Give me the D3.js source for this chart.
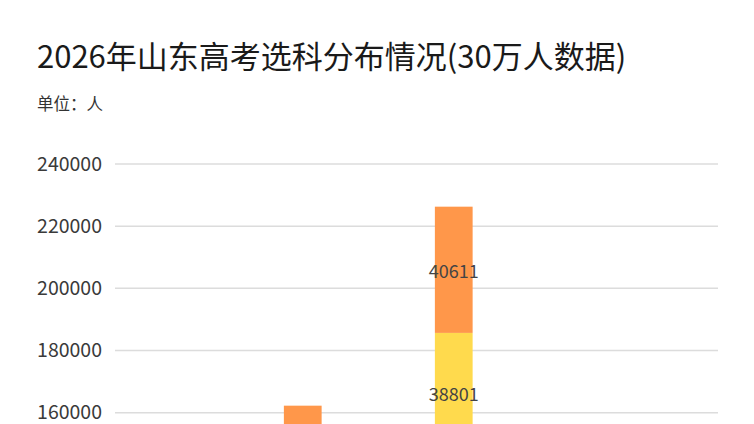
<!DOCTYPE html>
<html>
<head>
<meta charset="utf-8">
<script src="https://cdn.jsdelivr.net/npm/d3@7"></script>
<style>
html, body { margin: 0; padding: 0; overflow: hidden; background: #fff; width: 754px; height: 424px; }
svg { display: block; }
text { font-family: "Noto Sans CJK SC", "Noto Sans", sans-serif; }
</style>
</head>
<body>
<script>
// ---- data ----
const title = "2026年山东高考选科分布情况(30万人数据)";
const unitLabel = "单位：人";
const categories = ["组合一", "组合二"];
const seriesNames = ["其他", "选科B", "选科A"];
const seriesOther = [101000, 146858];   // bottom part (below visible area, estimated)
const seriesB = [32000, 38801];         // yellow segment
const seriesA = [29250, 40611];         // orange segment
const yTicks = [0, 20000, 40000, 60000, 80000, 100000, 120000, 140000, 160000, 180000, 200000, 220000, 240000];

const colors = ["#8FC1E3", "#FFDA4D", "#FF974A"];

const W = 754, H = 424;           // the photographed window; the chart continues below it
const viewBottom = 424;
const svg = d3.select("body").append("svg").attr("width", W).attr("height", H);

const y = d3.scaleLinear().domain([0, 240000]).range([910, 164]);
const x = d3.scaleBand().domain(categories).range([227.25, 529.25])
  .paddingInner(0.75).paddingOuter(0.375);
const inView = (yy, half) => yy + half <= viewBottom;

// title
svg.append("text").attr("x", 37).attr("y", 68)
  .attr("font-size", 31).attr("fill", "#1a1a1a").text(title);
svg.append("text").attr("x", 37).attr("y", 110)
  .attr("font-size", 16.5).attr("fill", "#333").text(unitLabel);

// grid + y labels
const grid = svg.append("g");
grid.selectAll("line").data(yTicks).join("line")
  .attr("x1", 115).attr("x2", 718)
  .attr("y1", d => y(d)).attr("y2", d => y(d))
  .attr("stroke", "#dcdcdc").attr("stroke-width", 1.5);
grid.selectAll("text").data(yTicks.filter(d => inView(y(d), 9))).join("text")
  .attr("x", 102).attr("y", d => y(d)).attr("dy", "0.35em")
  .attr("text-anchor", "end").attr("font-size", 19.5).attr("fill", "#3a3a3a")
  .text(d => d);

// stacked bars
const rows = categories.map((c, i) => ({ cat: c, [seriesNames[0]]: seriesOther[i], [seriesNames[1]]: seriesB[i], [seriesNames[2]]: seriesA[i] }));
const stack = d3.stack().keys(seriesNames)(rows);

const g = svg.append("g");
stack.forEach((layer, li) => {
  g.append("g").selectAll("rect").data(layer).join("rect")
    .attr("x", d => x(d.data.cat))
    .attr("width", x.bandwidth())
    .attr("y", d => y(d[1]))
    .attr("height", d => y(d[0]) - y(d[1]))
    .attr("fill", colors[li]);
  g.append("g").selectAll("text")
    .data(layer.filter(d => inView((y(d[0]) + y(d[1])) / 2, 10)))
    .join("text")
    .attr("x", d => x(d.data.cat) + x.bandwidth() / 2)
    .attr("y", d => (y(d[0]) + y(d[1])) / 2)
    .attr("dy", "0.45em")
    .attr("text-anchor", "middle")
    .attr("font-family", "Roboto, 'Noto Sans', sans-serif")
    .attr("font-size", 18).attr("fill", "#444")
    .text(d => d[1] - d[0]);
});
</script>
</body>
</html>
